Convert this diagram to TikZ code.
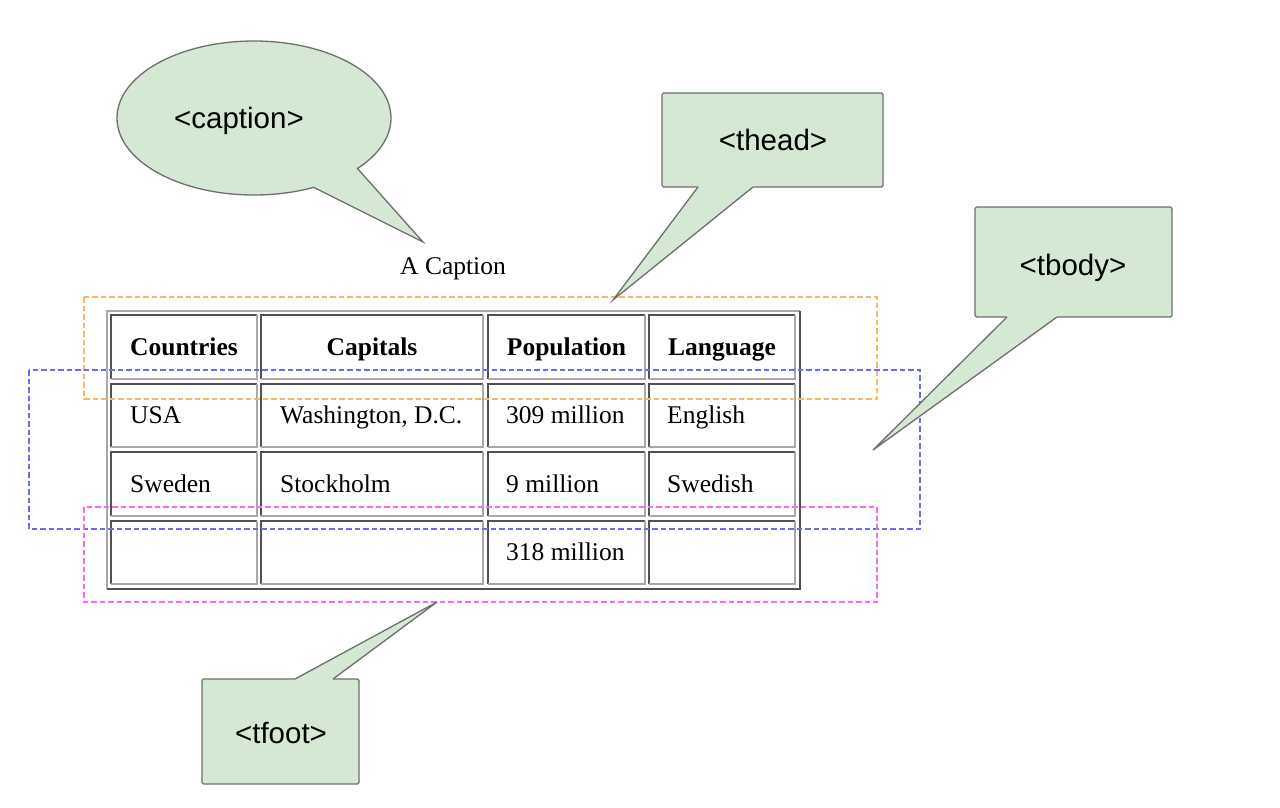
\documentclass[tikz,border=0pt]{standalone}
\usepackage{fontspec}
\setmainfont{Liberation Serif}
\newfontfamily\callfont{Liberation Sans}
\usetikzlibrary{shapes.geometric}
\definecolor{callfill}{HTML}{D5E8D4}
\definecolor{callline}{HTML}{6E6E6E}
\definecolor{darkb}{HTML}{505050}
\definecolor{lightb}{HTML}{A8A8A8}
\definecolor{dorange}{HTML}{FFB35C}
\definecolor{dblue}{HTML}{6A6AF2}
\definecolor{dpink}{HTML}{FF66F2}
\tikzset{
  calltext/.style={font=\callfont\fontsize{29.5}{34}\selectfont, text=black},
  callbox/.style={draw=callline, fill=callfill, line width=1.3pt, rounded corners=1.5pt},
  tailfill/.style={fill=callfill},
  tailline/.style={draw=callline, line width=1.3pt, line join=miter},
  serif/.style={font=\fontsize{25.5}{30}\selectfont, text=black, inner sep=0pt},
  serifb/.style={font=\bfseries\fontsize{25.5}{30}\selectfont, text=black, inner sep=0pt},
  cellbox/.style={inner sep=0pt, outer sep=0pt},
  dashbox/.style={line width=2.8pt, dash pattern=on 5.5pt off 3pt},
}
\begin{document}
\begin{tikzpicture}[x=1pt,y=-1pt]
\useasboundingbox (0,0) rectangle (1280,807);
\fill[white] (0,0) rectangle (1280,807);

% ---------- table ----------
\draw[lightb, line width=1.5pt] (107,589) -- (107,311) -- (800,311);
\draw[darkb, line width=1.5pt] (800,311) -- (800,589) -- (107,589);

\def\cellrect#1#2#3#4#5{%
  \node[cellbox, minimum width={#4-#2}, minimum height={#5-#3}] (#1) at ({(#2+#4)/2},{(#3+#5)/2}) {};
  \draw[darkb, line width=1.4pt] (#2,#5) -- (#2,#3) -- (#4,#3);
  \draw[lightb, line width=1.4pt] (#4,#3) -- (#4,#5) -- (#2,#5);
}
\cellrect{h1}{111}{315}{257}{379}
\cellrect{h2}{261}{315}{483}{379}
\cellrect{h3}{488}{315}{645}{379}
\cellrect{h4}{649}{315}{795}{379}
\cellrect{a1}{111}{384}{257}{447}
\cellrect{a2}{261}{384}{483}{447}
\cellrect{a3}{488}{384}{645}{447}
\cellrect{a4}{649}{384}{795}{447}
\cellrect{b1}{111}{452}{257}{516}
\cellrect{b2}{261}{452}{483}{516}
\cellrect{b3}{488}{452}{645}{516}
\cellrect{b4}{649}{452}{795}{516}
\cellrect{f1}{111}{521}{257}{584}
\cellrect{f2}{261}{521}{483}{584}
\cellrect{f3}{488}{521}{645}{584}
\cellrect{f4}{649}{521}{795}{584}

\node[serifb, anchor=base] (th1) at ([yshift=-8pt]h1.center) {Countries};
\node[serifb, anchor=base] (th2) at ([yshift=-8pt]h2.center) {Capitals};
\node[serifb, anchor=base] (th3) at ([yshift=-8pt]h3.center) {Population};
\node[serifb, anchor=base] (th4) at ([yshift=-8pt]h4.center) {Language};

\node[serif, anchor=base west] (t11) at ([xshift=19pt,yshift=-8pt]a1.west) {USA};
\node[serif, anchor=base west] (t12) at ([xshift=19pt,yshift=-8pt]a2.west) {Washington, D.C.};
\node[serif, anchor=base west] (t13) at ([xshift=18pt,yshift=-8pt]a3.west) {309 million};
\node[serif, anchor=base west] (t14) at ([xshift=18pt,yshift=-8pt]a4.west) {English};
\node[serif, anchor=base west] (t21) at ([xshift=19pt,yshift=-8pt]b1.west) {Sweden};
\node[serif, anchor=base west] (t22) at ([xshift=19pt,yshift=-8pt]b2.west) {Stockholm};
\node[serif, anchor=base west] (t23) at ([xshift=18pt,yshift=-8pt]b3.west) {9 million};
\node[serif, anchor=base west] (t24) at ([xshift=18pt,yshift=-8pt]b4.west) {Swedish};
\node[serif, anchor=base west] (t33) at ([xshift=18pt,yshift=-8pt]f3.west) {318 million};

\node[serif, anchor=base] (cap) at (453,274) {A Caption};

% ---------- dashed groups ----------
\draw[dashbox, dorange] (84,297) rectangle (877,399);
\draw[dashbox, dblue] (29,370) rectangle (920,529);
\draw[dashbox, dpink] (84,507) rectangle (877,602);

% ---------- caption callout ----------
\node[ellipse, draw=callline, fill=callfill, line width=1.3pt, minimum width=274pt, minimum height=154pt, inner sep=0pt] (ecap) at (254,118) {};
\coordinate (capA) at (357,168);
\coordinate (capT) at (423,242);
\coordinate (capB) at (313,187);
\fill[tailfill] (capA) -- (capT) -- (capB) -- (300,170) -- (345,155) -- cycle;
\draw[tailline] (capA) -- (capT) -- (capB);
\node[calltext, anchor=base] (lcap) at (239,128) {<caption>};

% ---------- thead callout ----------
\node[callbox, minimum width=221pt, minimum height=94pt, inner sep=0pt] (bhead) at (772.5,140) {};
\coordinate (hdA) at (698,187);
\coordinate (hdT) at (613,300);
\coordinate (hdB) at (753,187);
\fill[tailfill] (hdA) -- (hdT) -- (hdB) -- (753,183) -- (698,183) -- cycle;
\draw[tailline] (hdA) -- (hdT) -- (hdB);
\node[calltext, anchor=base] (lhead) at (773,150) {<thead>};

% ---------- tbody callout ----------
\node[callbox, minimum width=197pt, minimum height=110pt, inner sep=0pt] (bbody) at (1073.5,262) {};
\coordinate (bdA) at (1007,317);
\coordinate (bdT) at (873,450);
\coordinate (bdB) at (1057,317);
\fill[tailfill] (bdA) -- (bdT) -- (bdB) -- (1057,313) -- (1007,313) -- cycle;
\draw[tailline] (bdA) -- (bdT) -- (bdB);
\node[calltext, anchor=base] (lbody) at (1073,275) {<tbody>};

% ---------- tfoot callout ----------
\node[callbox, minimum width=157pt, minimum height=105pt, inner sep=0pt] (bfoot) at (280.5,731.5) {};
\coordinate (ftA) at (295,679);
\coordinate (ftT) at (437,602);
\coordinate (ftB) at (333,679);
\fill[tailfill] (ftA) -- (ftT) -- (ftB) -- (333,683) -- (295,683) -- cycle;
\draw[tailline] (ftA) -- (ftT) -- (ftB);
\node[calltext, anchor=base] (lfoot) at (281,743) {<tfoot>};
\end{tikzpicture}
\end{document}
